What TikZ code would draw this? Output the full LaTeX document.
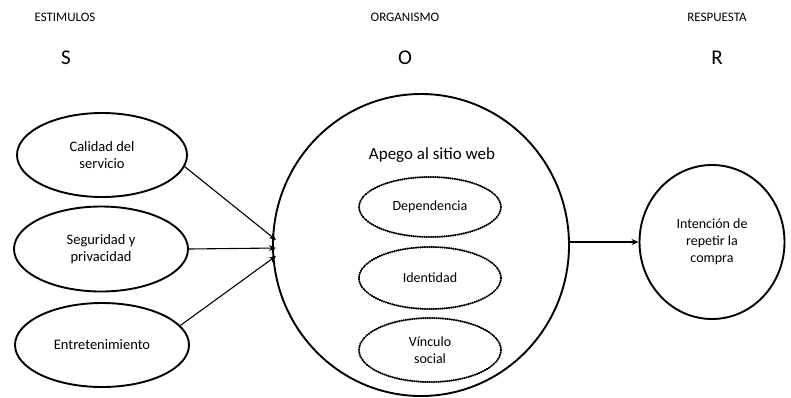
\documentclass[tikz,border=0pt]{standalone}
\usepackage{fontspec}
\setmainfont{Carlito}
\usetikzlibrary{shapes.geometric,arrows.meta}
\begin{document}
\begin{tikzpicture}[x=1pt,y=-1pt,
  head/.style={font=\fontsize{13}{15}\selectfont},
  letter/.style={font=\fontsize{21}{23}\selectfont},
  solidell/.style={draw,line width=1.9pt,ellipse,inner sep=0pt,align=center,
    font=\fontsize{14.5}{17.5}\selectfont},
  dotell/.style={draw,line width=2pt,line cap=round,dash pattern=on 0.6pt off 1.6pt,ellipse,inner sep=0pt,
    align=center,font=\fontsize{14}{17.5}\selectfont},
  conn/.style={line width=1.1pt,-{Stealth[length=7pt,width=6pt]}}]
\useasboundingbox (0,0) rectangle (791,397);
% column headings
\node[head] (hs) at (65,17) {ESTIMULOS};
\node[head] (ho) at (405,17) {ORGANISMO};
\node[head] (hr) at (717,17) {RESPUESTA};
\node[letter] (ls) at (66,58) {S};
\node[letter] (lo) at (405,58) {O};
\node[letter] (lr) at (717,58) {R};
% stimuli
\node[solidell,minimum width=170pt,minimum height=84pt] (e1) at (102,155) {Calidad del\\servicio};
\node[solidell,minimum width=174pt,minimum height=85pt] (e2) at (101,249) {Seguridad y\\privacidad};
\node[solidell,minimum width=174pt,minimum height=84pt] (e3) at (102,345) {Entretenimiento};
% organism
\node[draw,line width=1.9pt,ellipse,minimum width=296pt,minimum height=302pt] (org) at (421,245) {};
\node[font=\fontsize{17}{19}\selectfont] (ap) at (432,155) {Apego al sitio web};
\node[dotell,minimum width=142pt,minimum height=60pt] (d1) at (430,207) {Dependencia};
\node[dotell,minimum width=142pt,minimum height=62pt] (d2) at (430,278) {Identidad};
\node[dotell,minimum width=142pt,minimum height=64pt] (d3) at (430,350) {Vínculo\\social};
% response
\node[solidell,minimum width=145pt,minimum height=154pt,font=\fontsize{14}{17}\selectfont] (resp) at (712,242) {Intención de\\repetir la\\compra};
% connectors
\coordinate (t1) at (276,240);
\coordinate (t2) at (276,248);
\coordinate (t3) at (276,256);
\draw[conn] (e1.-8) -- (t1);
\draw[conn] (e2.east) -- (t2);
\draw[conn] (e3.14) -- (t3);
\draw[conn] (org.east |- resp.west) -- (resp.west);
\end{tikzpicture}
\end{document}
